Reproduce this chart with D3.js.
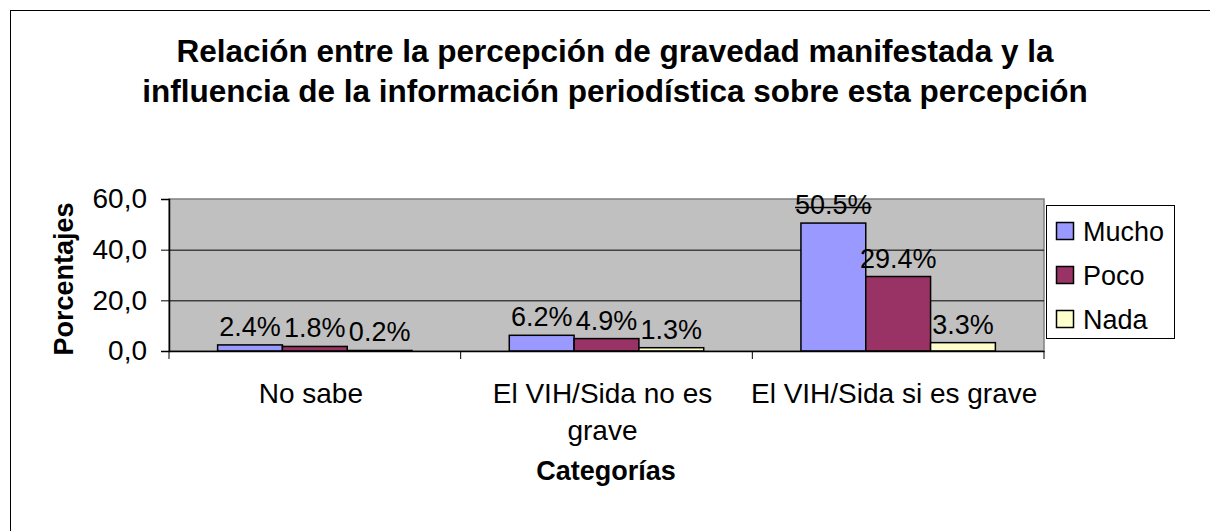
<!DOCTYPE html>
<html lang="es">
<head>
<meta charset="utf-8">
<script src="https://cdn.jsdelivr.net/npm/d3@7"></script>
<style>
  html, body { margin: 0; padding: 0; background: #ffffff; }
  svg { display: block; font-family: "Liberation Sans", Arial, sans-serif; }
</style>
</head>
<body>
<svg id="chart" width="1210" height="531"></svg>
<script>
// Chart data
const titleLines = [
  "Relación entre la percepción de gravedad manifestada y la",
  "influencia de la información periodística sobre esta percepción"
];
const categories = ["No sabe", "El VIH/Sida no es grave", "El VIH/Sida si es grave"];
const seriesNames = ["Mucho", "Poco", "Nada"];
const mucho = [2.4, 6.2, 50.5];
const poco = [1.8, 4.9, 29.4];
const nada = [0.2, 1.3, 3.3];
const yTicks = [0, 20, 40, 60];
const yAxisTitle = "Porcentajes";
const xAxisTitle = "Categorías";

const seriesValues = [mucho, poco, nada];
const colors = ["#9999FF", "#993366", "#FFFFCC"];

const svg = d3.select("#chart");

// Outer chart frame (runs past the right and bottom edges)
svg.append("rect")
  .attr("x", 10.5).attr("y", 10.5)
  .attr("width", 1240).attr("height", 560)
  .attr("fill", "#ffffff").attr("stroke", "#000000").attr("stroke-width", 1);

// Plot area geometry
const plot = { left: 169, right: 1044, top: 199, bottom: 351 };

const x = d3.scaleBand().domain(categories).range([plot.left, plot.right]).padding(0);
const xs = d3.scaleBand().domain(seriesNames).range([0, x.bandwidth()])
  .paddingInner(0).paddingOuter(0.75);
const y = d3.scaleLinear().domain([0, 60]).range([plot.bottom, plot.top]);

// Plot background
svg.append("rect")
  .attr("x", plot.left).attr("y", plot.top)
  .attr("width", plot.right - plot.left).attr("height", plot.bottom - plot.top)
  .attr("fill", "#C0C0C0").attr("stroke", "#808080").attr("stroke-width", 1.5);

// Horizontal gridlines
svg.append("g").selectAll("line")
  .data(yTicks.filter(t => t > 0 && t < 60))
  .join("line")
  .attr("x1", plot.left).attr("x2", plot.right)
  .attr("y1", d => y(d) + 0.5).attr("y2", d => y(d) + 0.5)
  .attr("stroke", "#000000").attr("stroke-width", 1);

// Bars
const groups = svg.append("g").selectAll("g")
  .data(seriesNames.map((name, si) => ({ name, si, values: seriesValues[si] })))
  .join("g")
  .attr("fill", d => colors[d.si]);

groups.selectAll("rect")
  .data(d => d.values.map((v, ci) => ({ v, ci, name: d.name })))
  .join("rect")
  .attr("x", d => x(categories[d.ci]) + xs(d.name))
  .attr("y", d => y(d.v))
  .attr("width", xs.bandwidth())
  .attr("height", d => y(0) - y(d.v))
  .attr("stroke", "#000000").attr("stroke-width", 1.5);

// Axes
const commaFmt = d3.formatLocale({ decimal: ",", thousands: ".", grouping: [3], currency: ["", ""] }).format(".1f");

const yAxis = svg.append("g")
  .attr("transform", `translate(${plot.left},0)`)
  .call(d3.axisLeft(y).tickValues(yTicks).tickFormat(commaFmt).tickSize(8).tickPadding(14));
yAxis.select(".domain").attr("stroke", "#000").attr("stroke-width", 1.5);
yAxis.selectAll(".tick line").attr("stroke", "#000");
yAxis.selectAll(".tick text")
  .attr("font-size", 28).attr("fill", "#000").attr("font-family", "Liberation Sans, Arial, sans-serif");

const xAxis = svg.append("g")
  .attr("transform", `translate(0,${plot.bottom})`)
  .call(d3.axisBottom(x).tickSize(0).tickFormat(""));
xAxis.select(".domain").attr("stroke", "#000").attr("stroke-width", 1.5);
xAxis.selectAll(".tick").remove();

// Category boundary tick marks
svg.append("g").selectAll("line")
  .data(categories.map(c => x(c)).concat([plot.right]))
  .join("line")
  .attr("x1", d => d).attr("x2", d => d)
  .attr("y1", plot.bottom).attr("y2", plot.bottom + 8)
  .attr("stroke", "#000").attr("stroke-width", 1);

// Category labels, wrapped to the band width
const wrapWidth = x.bandwidth() - 2;
const catLabels = svg.append("g")
  .attr("font-size", 28).attr("fill", "#000").attr("text-anchor", "middle");
categories.forEach(cat => {
  const cx = x(cat) + x.bandwidth() / 2 - 4;
  const t = catLabels.append("text").attr("x", cx).attr("y", 403);
  const words = cat.split(" ");
  let line = [];
  let tspan = t.append("tspan").attr("x", cx).attr("dy", 0);
  words.forEach(w => {
    line.push(w);
    tspan.text(line.join(" "));
    if (tspan.node().getComputedTextLength() > wrapWidth && line.length > 1) {
      line.pop();
      tspan.text(line.join(" "));
      line = [w];
      tspan = t.append("tspan").attr("x", cx).attr("dy", 37).text(w);
    }
  });
});

// Data labels
const labelFmt = d3.format(".1f");
const labels = svg.append("g").attr("font-size", 27).attr("fill", "#000").attr("text-anchor", "middle");
seriesNames.forEach((name, si) => {
  seriesValues[si].forEach((v, ci) => {
    const cx = x(categories[ci]) + xs(name) + xs.bandwidth() / 2;
    const by = y(v) - 9;
    const t = labels.append("text")
      .attr("x", cx).attr("y", by)
      .text(labelFmt(v) + "%");
    // labels rising past the plot's top edge are drawn struck through
    const bb = t.node().getBBox();
    if (bb.y < plot.top) {
      labels.append("line")
        .attr("x1", bb.x).attr("x2", bb.x + bb.width)
        .attr("y1", by - 6.5).attr("y2", by - 6.5)
        .attr("stroke", "#000").attr("stroke-width", 1.5);
    }
  });
});

// Title
svg.append("g")
  .attr("font-size", 31.5).attr("font-weight", "bold").attr("fill", "#000").attr("text-anchor", "middle")
  .selectAll("text")
  .data(titleLines)
  .join("text")
  .attr("x", 615)
  .attr("y", (d, i) => 62 + i * 40)
  .text(d => d);

// Axis titles
svg.append("text")
  .attr("transform", `translate(73,${(plot.top + plot.bottom) / 2 + 4}) rotate(-90)`)
  .attr("font-size", 27).attr("font-weight", "bold").attr("text-anchor", "middle")
  .text(yAxisTitle);

svg.append("text")
  .attr("x", 606).attr("y", 480)
  .attr("font-size", 27).attr("font-weight", "bold").attr("text-anchor", "middle")
  .text(xAxisTitle);

// Legend
const legend = svg.append("g");
legend.append("rect")
  .attr("x", 1046.5).attr("y", 205.5).attr("width", 128).attr("height", 133)
  .attr("fill", "#ffffff").attr("stroke", "#000").attr("stroke-width", 1);
const legendY = d3.scalePoint().domain(seriesNames).range([230.5, 318.5]);
seriesNames.forEach((name, si) => {
  legend.append("rect")
    .attr("x", 1056.5).attr("y", legendY(name) - 8)
    .attr("width", 17).attr("height", 17)
    .attr("fill", colors[si]).attr("stroke", "#000").attr("stroke-width", 1.5);
  legend.append("text")
    .attr("x", 1083).attr("y", legendY(name) + 10)
    .attr("font-size", 27).attr("fill", "#000")
    .text(name);
});
</script>
</body>
</html>
